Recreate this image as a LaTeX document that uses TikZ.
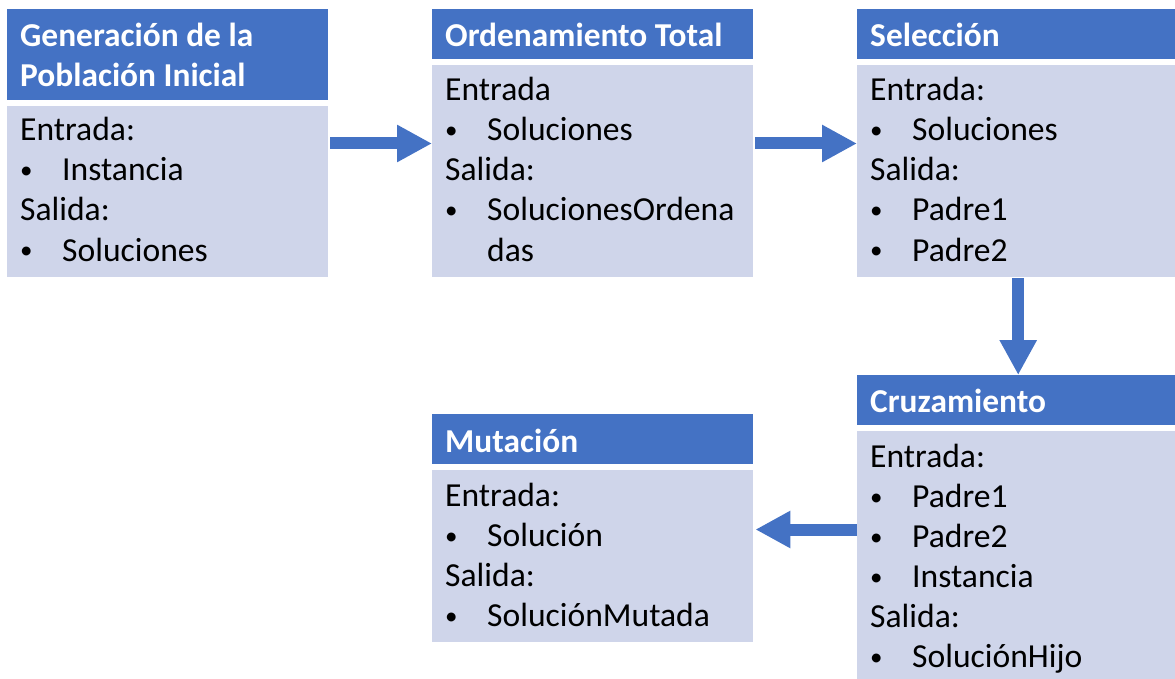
\documentclass[tikz,border=0pt]{standalone}
\usepackage{fontspec}
\setmainfont{Carlito}
\usetikzlibrary{arrows.meta}
\definecolor{hdr}{HTML}{4472C4}
\definecolor{bod}{HTML}{CFD5EA}
\newcommand\smallbul{{\fontsize{25}{40}\selectfont\raisebox{2pt}{\textbullet}}}
\newcommand\itembul[1]{\makebox[42pt][l]{\smallbul}#1}
\newcommand\itemcont[1]{\makebox[42pt][l]{}#1}
\tikzset{
  x=1pt, y=-1pt,
  hdrbox/.style={fill=hdr, draw=none, anchor=north west, inner sep=0, minimum height=50pt},
  bodbox/.style={fill=bod, draw=none, anchor=north west, inner sep=0},
  hdrtext/.style={anchor=base west, inner sep=0, text=white, font=\fontsize{33.4}{40}\selectfont\bfseries},
  bodtext/.style={anchor=base west, inner sep=0, text=black, font=\fontsize{33.6}{40}\selectfont},
  flow/.style={draw=hdr, line width=12pt, -{Triangle[length=35pt,width=35pt]}}
}
\begin{document}
\begin{tikzpicture}
\useasboundingbox (0,0) rectangle (1175,679);
% boxes
\node[hdrbox, minimum width=321pt, minimum height=91pt] (h1) at (7,9) {};
\node[bodbox, minimum width=321pt, minimum height=171pt] (b1) at (7,106) {};
\node[hdrbox, minimum width=321pt] (h2) at (432,9) {};
\node[bodbox, minimum width=321pt, minimum height=212pt] (b2) at (432,65) {};
\node[hdrbox, minimum width=318pt] (h3) at (857,9) {};
\node[bodbox, minimum width=318pt, minimum height=212pt] (b3) at (857,65) {};
\node[hdrbox, minimum width=318pt] (h4) at (857,375) {};
\node[bodbox, minimum width=318pt, minimum height=248pt] (b4) at (857,431) {};
\node[hdrbox, minimum width=321pt] (h5) at (432,414) {};
\node[bodbox, minimum width=321pt, minimum height=172pt] (b5) at (432,470) {};
% header texts
\node[hdrtext] (h1a) at (20,47) {Generación de la};
\node[hdrtext] (h1b) at (20,87) {Población Inicial};
\node[hdrtext] (h2a) at (445,47) {Ordenamiento Total};
\node[hdrtext] (h3a) at (870,47) {Selección};
\node[hdrtext] (h4a) at (870,412) {Cruzamiento};
\node[hdrtext] (h5a) at (445,452) {Mutación};
% body texts
\foreach \t [count=\i] in {Entrada:, \itembul{Instancia}, Salida:, \itembul{Soluciones}}
  \node[bodtext] (t1-\i) at (20,{141+40*(\i-1)}) {\t};
\foreach \t [count=\i] in {Entrada, \itembul{Soluciones}, Salida:, \itembul{SolucionesOrdena}, \itemcont{das}}
  \node[bodtext] (t2-\i) at (445,{101+40*(\i-1)}) {\t};
\foreach \t [count=\i] in {Entrada:, \itembul{Soluciones}, Salida:, \itembul{Padre1}, \itembul{Padre2}}
  \node[bodtext] (t3-\i) at (870,{101+40*(\i-1)}) {\t};
\foreach \t [count=\i] in {Entrada:, \itembul{Padre1}, \itembul{Padre2}, \itembul{Instancia}, Salida:, \itembul{SoluciónHijo}}
  \node[bodtext] (t4-\i) at (870,{467+40*(\i-1)}) {\t};
\foreach \t [count=\i] in {Entrada:, \itembul{Solución}, Salida:, \itembul{SoluciónMutada}}
  \node[bodtext] (t5-\i) at (445,{506+40*(\i-1)}) {\t};
% connectors
\coordinate (r1) at (0,143.5);
\coordinate (r4) at (0,529.5);
\draw[flow] ([xshift=2pt]b1.east |- r1) -- (b2.west |- r1);
\draw[flow] ([xshift=2pt]b2.east |- r1) -- (b3.west |- r1);
\draw[flow] ([xshift=2pt,yshift=-1pt]b3.south) -- ([xshift=2pt]h4.north);
\draw[flow] (b4.west |- r4) -- ([xshift=2pt]b5.east |- r4);
\end{tikzpicture}
\end{document}
